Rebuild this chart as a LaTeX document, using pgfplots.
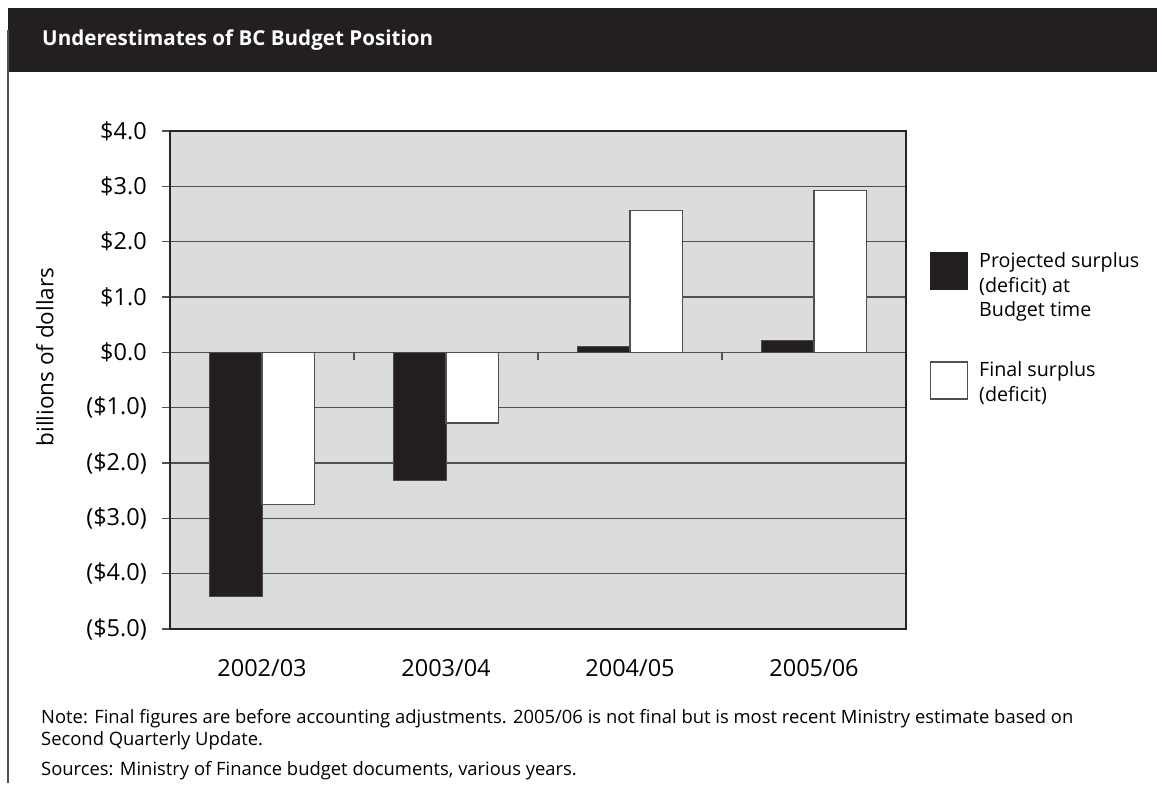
\documentclass[border=0pt]{standalone}
\usepackage{pgfplots}
\pgfplotsset{compat=1.18}
\usepackage{fontspec}
\setmainfont{Open Sans}
\definecolor{barblack}{HTML}{231F20}
\definecolor{plotbg}{HTML}{DBDCDE}
\definecolor{gridc}{HTML}{505050}
\begin{document}
\begin{tikzpicture}[x=1pt,y=1pt]
\path[use as bounding box] (0,0) rectangle (1157,-786);
% title bar
\fill[barblack] (8,-8) rectangle (1157,-72);
\draw[gridc,line width=1.3pt] (8,-30) -- (8,-783);
\node[anchor=base west,inner sep=0pt,text=white,font=\fontsize{20.6}{25}\selectfont\bfseries] at (42,-46) {Underestimates of BC Budget Position};
\begin{axis}[
  at={(170pt,-629pt)}, anchor=south west,
  scale only axis, width=736pt, height=498pt,
  xmin=-0.5, xmax=3.5, ymin=-5, ymax=4,
  ybar=0pt, bar width=52.5pt,
  axis background/.style={fill=plotbg},
  axis line style={draw=black!85, line width=1.6pt},
  ymajorgrids, grid style={gridc, line width=1.2pt},
  xtick={0,1,2,3},
  xticklabels={2002/03,2003/04,2004/05,2005/06},
  major x tick style={draw=none},
  ytick={-5,-4,-3,-2,-1,0,1,2,3,4},
  yticklabels={(\$5.0),(\$4.0),(\$3.0),(\$2.0),(\$1.0),\$0.0,\$1.0,\$2.0,\$3.0,\$4.0},
  tick align=outside, ytick pos=left,
  major tick length=8pt,
  major y tick style={gridc, line width=1.2pt},
  ticklabel style={font=\fontsize{23.5}{27}\selectfont},
  xticklabel style={anchor=base, yshift=-39pt, inner sep=0pt},
  yticklabel style={anchor=east, inner sep=0pt, xshift=-15pt},
  clip=false,
]
\addplot[fill=barblack, draw=black!70, line width=0.8pt] coordinates {(0,-4.41) (1,-2.31) (2,0.10) (3,0.22)};
\addplot[fill=white, draw=gridc, line width=1.4pt] coordinates {(0,-2.75) (1,-1.28) (2,2.56) (3,2.92)};
\foreach \xx in {0.5,1.5,2.5}{
  \edef\tmp{\noexpand\draw[gridc,line width=1.2pt] (axis cs:\xx,0) -- ([yshift=-8pt]axis cs:\xx,0);}\tmp
}
\end{axis}
% y label
\node[rotate=90,font=\fontsize{22.5}{26}\selectfont] at (45,-357) {billions of dollars};
% legend
\fill[barblack] (930,-252) rectangle (968,-290);
\draw[gridc,line width=1.3pt,fill=white] (930.5,-362) rectangle (967.5,-399);
\begin{scope}[every node/.style={anchor=base west,inner sep=0pt,font=\fontsize{19.7}{24}\selectfont}]
\node at (979,-268) {Projected surplus};
\node at (979,-292.5) {(deficit) at};
\node at (979,-317) {Budget time};
\node at (979,-377) {Final surplus};
\node at (979,-401.5) {(deficit)};
\end{scope}
% notes
\begin{scope}[every node/.style={anchor=base west,inner sep=0pt,font=\fontsize{18.4}{21}\selectfont}]
\node at (41,-723) {Note: Final figures are before accounting adjustments. 2005/06 is not final but is most recent Ministry estimate based on};
\node at (41,-745) {Second Quarterly Update.};
\node at (41,-775) {Sources: Ministry of Finance budget documents, various years.};
\end{scope}
\end{tikzpicture}
\end{document}
